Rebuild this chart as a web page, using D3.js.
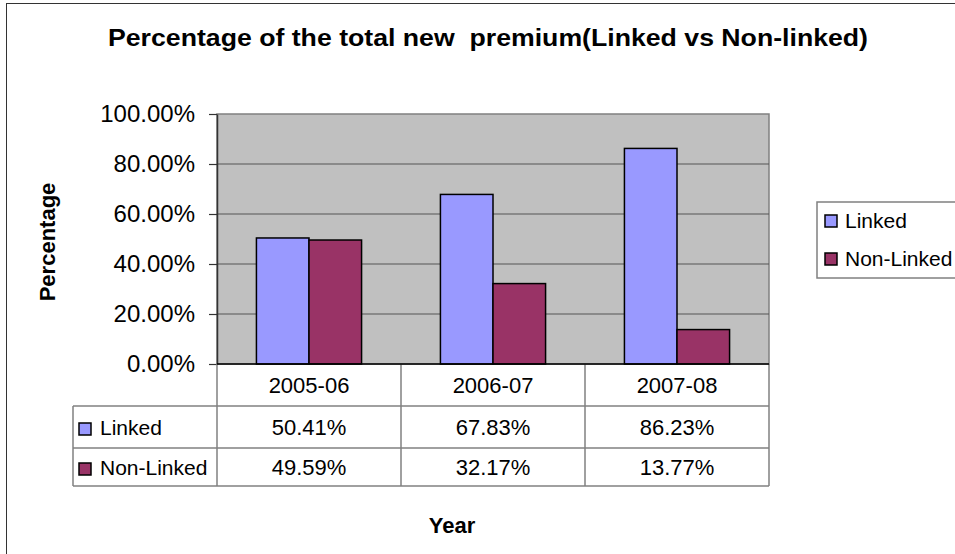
<!DOCTYPE html>
<html>
<head>
<meta charset="utf-8">
<script src="https://cdn.jsdelivr.net/npm/d3@7"></script>
<style>
  html, body { margin: 0; padding: 0; background: #fff; }
  svg { display: block; font-family: Arial, "Liberation Sans", sans-serif; }
</style>
</head>
<body>
<svg id="chart" width="955" height="554"></svg>
<script>
const categories = ["2005-06", "2006-07", "2007-08"];
const seriesNames = ["Linked", "Non-Linked"];
const linkedValues = [0.5041, 0.6783, 0.8623];
const nonLinkedValues = [0.4959, 0.3217, 0.1377];
const seriesColors = ["#9999FF", "#993366"];
const yTicks = [0, 0.2, 0.4, 0.6, 0.8, 1.0];
const titleText = "Percentage of the total new  premium(Linked vs Non-linked)";
const yAxisTitle = "Percentage";
const xAxisTitle = "Year";

const seriesValues = [linkedValues, nonLinkedValues];

const svg = d3.select("#chart");

// outer chart border (cropped at right/bottom)
svg.append("rect").attr("x", 6.5).attr("y", 3.5).attr("width", 1200).attr("height", 800)
  .attr("fill", "#fff").attr("stroke", "#333").attr("stroke-width", 1);

const plot = { left: 217, right: 769, top: 114, bottom: 364 };

const x = d3.scaleBand().domain(categories).range([plot.left, plot.right]);
const y = d3.scaleLinear().domain([0, 1]).range([plot.bottom, plot.top]);

// plot area background
svg.append("rect").attr("x", plot.left).attr("y", plot.top)
  .attr("width", plot.right - plot.left).attr("height", plot.bottom - plot.top)
  .attr("fill", "#C0C0C0").attr("stroke", "#808080").attr("stroke-width", 1.5);

// gridlines
svg.append("g").selectAll("line").data(yTicks.filter(d => d > 0 && d < 1)).join("line")
  .attr("x1", plot.left).attr("x2", plot.right)
  .attr("y1", d => y(d)).attr("y2", d => y(d))
  .attr("stroke", "#555").attr("stroke-width", 1);

// bars
const bw = x.bandwidth();
const barW = bw / (seriesNames.length + 1.5);
const inner = d3.scaleBand().domain(seriesNames)
  .range([(bw - barW * seriesNames.length) / 2, (bw + barW * seriesNames.length) / 2]);

seriesNames.forEach((s, si) => {
  svg.append("g").selectAll("rect").data(categories).join("rect")
    .attr("x", (c) => x(c) + inner(s))
    .attr("y", (c, i) => y(seriesValues[si][i]))
    .attr("width", inner.bandwidth())
    .attr("height", (c, i) => y(0) - y(seriesValues[si][i]))
    .attr("fill", seriesColors[si])
    .attr("stroke", "#000").attr("stroke-width", 1.5);
});

// y axis
const yAxis = d3.axisLeft(y).tickValues(yTicks).tickFormat(d3.format(".2%"))
  .tickSizeInner(8).tickSizeOuter(0).tickPadding(14);
const ya = svg.append("g").attr("transform", `translate(${plot.left},0)`).call(yAxis);
ya.select(".domain").attr("stroke", "#333").attr("stroke-width", 1.5);
ya.selectAll(".tick line").attr("stroke", "#333").attr("stroke-width", 1.2);
ya.selectAll(".tick text").attr("font-size", 24).attr("fill", "#000")
  .attr("font-family", "Arial, 'Liberation Sans', sans-serif");

// data table
const rowH = [plot.bottom, 406, 448, 486];
const tableLeft = 73;
const tableColor = "#808080";
const tg = svg.append("g");
[1, 2, 3].forEach(r => {
  tg.append("line").attr("x1", tableLeft).attr("x2", plot.right)
    .attr("y1", rowH[r]).attr("y2", rowH[r]).attr("stroke", tableColor).attr("stroke-width", 1.5);
});
tg.append("line").attr("x1", tableLeft).attr("x2", tableLeft).attr("y1", rowH[1]).attr("y2", rowH[3]).attr("stroke", tableColor).attr("stroke-width", 1.5);
const colEdges = [plot.left, ...categories.map(c => x(c) + bw)];
tg.selectAll("line.col").data(colEdges).join("line").attr("class", "col")
  .attr("x1", d => d).attr("x2", d => d).attr("y1", rowH[0]).attr("y2", rowH[3])
  .attr("stroke", tableColor).attr("stroke-width", 1.5);

// category labels
tg.selectAll("text.cat").data(categories).join("text").attr("class", "cat")
  .attr("x", c => x(c) + bw / 2).attr("y", (rowH[0] + rowH[1]) / 2)
  .attr("text-anchor", "middle").attr("dominant-baseline", "central")
  .attr("font-size", 22).text(c => c);

// value cells and row legends
seriesNames.forEach((s, si) => {
  const cy = (rowH[si + 1] + rowH[si + 2]) / 2;
  tg.selectAll("text.v" + si).data(categories).join("text").attr("class", "v" + si)
    .attr("x", c => x(c) + bw / 2).attr("y", cy)
    .attr("text-anchor", "middle").attr("dominant-baseline", "central")
    .attr("font-size", 22).text((c, i) => d3.format(".2%")(seriesValues[si][i]));
  tg.append("rect").attr("x", 79).attr("y", cy - 6 + 2).attr("width", 12).attr("height", 12)
    .attr("fill", seriesColors[si]).attr("stroke", "#000").attr("stroke-width", 1.5);
  tg.append("text").attr("x", 100).attr("y", cy).attr("dominant-baseline", "central")
    .attr("font-size", 21).text(s);
});

// x axis (zero line)
svg.append("line").attr("x1", plot.left).attr("x2", plot.right)
  .attr("y1", y(0)).attr("y2", y(0)).attr("stroke", "#000").attr("stroke-width", 1.5);

// legend
const lg = svg.append("g");
lg.append("rect").attr("x", 817).attr("y", 202).attr("width", 200).attr("height", 76)
  .attr("fill", "#fff").attr("stroke", "#808080").attr("stroke-width", 1.5);
seriesNames.forEach((s, si) => {
  const cy = 220 + si * 38;
  lg.append("rect").attr("x", 825).attr("y", cy - 6 + 1).attr("width", 12).attr("height", 12)
    .attr("fill", seriesColors[si]).attr("stroke", "#000").attr("stroke-width", 1.5);
  lg.append("text").attr("x", 845).attr("y", cy).attr("dominant-baseline", "central")
    .attr("font-size", 21).text(s);
});

// titles
svg.append("text").attr("x", 488).attr("y", 46).attr("text-anchor", "middle")
  .attr("font-size", 23).attr("font-weight", "bold").style("white-space", "pre")
  .attr("textLength", 760).attr("lengthAdjust", "spacingAndGlyphs")
  .text(titleText);
svg.append("text").attr("transform", "translate(47,242) rotate(-90)")
  .attr("text-anchor", "middle").attr("dominant-baseline", "central")
  .attr("font-size", 22).attr("font-weight", "bold").text(yAxisTitle);
svg.append("text").attr("x", 452).attr("y", 533).attr("text-anchor", "middle")
  .attr("font-size", 22).attr("font-weight", "bold").text(xAxisTitle);
</script>
</body>
</html>
